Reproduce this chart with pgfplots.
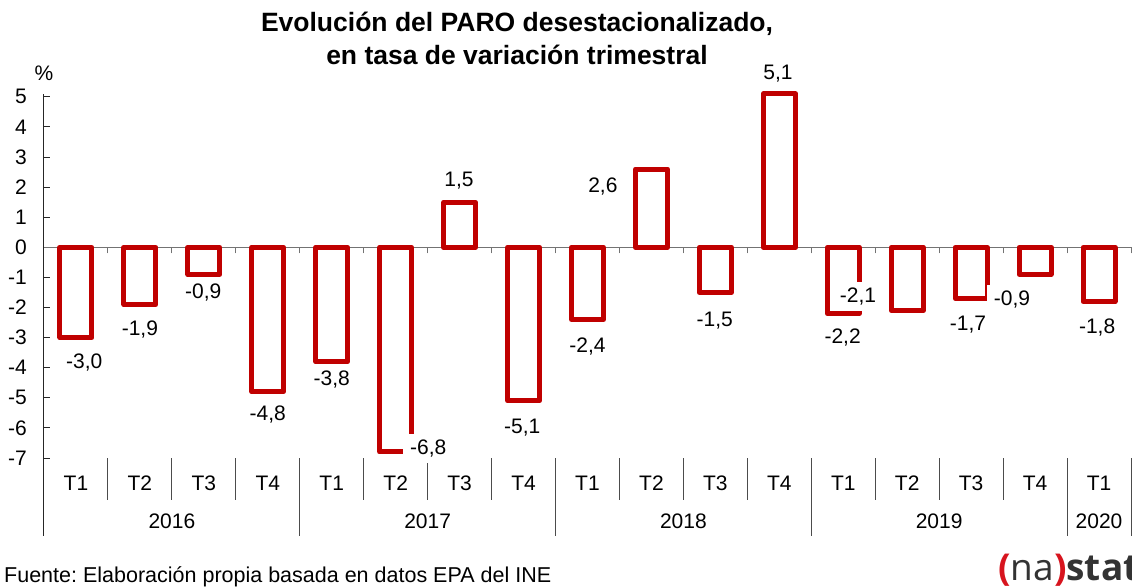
\documentclass[border=0pt]{standalone}
\usepackage{fontspec}
\setmainfont{Liberation Sans}
\newfontfamily\logofont{Open Sans}
\usepackage{pgfplots}
\usepackage{pgfplotstable}
\pgfplotsset{compat=1.18}
\frenchspacing
\definecolor{barred}{HTML}{C00000}
\definecolor{logored}{HTML}{D7141E}
\definecolor{logogray}{HTML}{333333}
\newcommand\lbl{\fontsize{21}{25}\selectfont}

\pgfplotstableread{
x y
0 -3.0
1 -1.9
2 -0.9
3 -4.8
4 -3.8
5 -6.8
6 1.5
7 -5.1
8 -2.4
9 2.6
10 -1.5
11 5.1
12 -2.2
13 -2.1
14 -1.7
15 -0.9
16 -1.8
}\bars

\pgfplotstableread{
lx ly lab
0.13 -3.84 -3,0
1.00 -2.74 -1,9
1.99 -1.51 -0,9
3.00 -5.56 -4,8
4.00 -4.40 -3,8
5.51 -6.69 -6,8
5.99 2.21 1,5
6.98 -5.98 -5,1
8.00 -3.31 -2,4
8.24 2.03 2,6
9.99 -2.44 -1,5
10.98 5.78 5,1
11.99 -3.01 -2,2
12.23 -1.64 -2,1
13.95 -2.57 -1,7
14.64 -1.74 -0,9
15.97 -2.67 -1,8
}\labels

\begin{document}
\begin{tikzpicture}[x=1pt,y=1pt]
\useasboundingbox (0,0) rectangle (1132,-588);
\begin{axis}[
  at={(44pt,-458pt)}, anchor=south west,
  scale only axis, width=1087pt, height=364.2pt,
  xmin=-0.5, xmax=16.5, ymin=-7, ymax=5.1,
  clip=false,
  axis x line=middle, axis y line=left,
  axis line style={-},
  x axis line style={black!55, line width=1pt},
  y axis line style={black!85, line width=1pt},
  hide obscured x ticks=false, hide obscured y ticks=false,
  xtick={-0.5,0.5,1.5,2.5,3.5,4.5,5.5,6.5,7.5,8.5,9.5,10.5,11.5,12.5,13.5,14.5,15.5,16.5},
  xticklabels={},
  xtick align=outside,
  x tick style={black!55, line width=1pt},
  ytick={-7,-6,-5,-4,-3,-2,-1,0,1,2,3,4,5},
  yticklabels={-7,-6,-5,-4,-3,-2,-1,0,1,2,3,4,5},
  ytick align=inside,
  y tick style={black!85, line width=1pt},
  major tick length=6pt,
  yticklabel style={anchor=east, inner sep=0pt, xshift=-17pt, font=\lbl},
]
\addplot[ybar, bar width=32pt, draw=barred, line width=5pt, fill=white, line join=round]
  table[x=x, y=y]{\bars};
\addplot[draw=none, mark=none, nodes near coords, point meta=explicit symbolic,
  nodes near coords style={anchor=center, fill=white, inner xsep=7pt, inner ysep=6pt, font=\lbl, text=black}]
  table[x=lx, y=ly, meta=lab]{\labels};

% category table
\foreach \xx in {0.5,1.5,2.5,4.5,5.5,6.5,8.5,9.5,10.5,12.5,13.5,14.5}
  {\edef\tmp{\noexpand\draw[black!70, line width=0.9pt] (axis cs:\xx,-7) -- ([yshift=-42pt]axis cs:\xx,-7);}\tmp}
\foreach \xx in {3.5,7.5,11.5,15.5,16.5}
  {\edef\tmp{\noexpand\draw[black!70, line width=0.9pt] (axis cs:\xx,-7) -- ([yshift=-78pt]axis cs:\xx,-7);}\tmp}
\draw[black!85, line width=1pt] (axis cs:-0.5,-7) -- ([yshift=-78pt]axis cs:-0.5,-7);

\foreach \xx/\tt in {0/T1,1/T2,2/T3,3/T4,4/T1,5/T2,6/T3,7/T4,8/T1,9/T2,10/T3,11/T4,12/T1,13/T2,14/T3,15/T4,16/T1}
  {\edef\tmp{\noexpand\node[font=\noexpand\lbl] at ([yshift=-25pt]axis cs:\xx,-7) {\tt};}\tmp}
\foreach \xx/\yy in {1.5/2016,5.5/2017,9.5/2018,13.5/2019,16/2020}
  {\edef\tmp{\noexpand\node[font=\noexpand\lbl] at ([yshift=-63pt]axis cs:\xx,-7) {\yy};}\tmp}
\end{axis}

\node[font=\bfseries\fontsize{26.5}{33}\selectfont, align=center] at (517,-38.5)
  {Evolución del PARO desestacionalizado,\\en tasa de variación trimestral};
\node[font=\lbl] at (44,-73) {\%};
\node[anchor=west, inner sep=0pt, font=\fontsize{21.5}{25}\selectfont] at (4,-577) {Fuente: Elaboración propia basada en datos EPA del INE};
\node[anchor=west, inner sep=0pt] at (998,-570)
  {\logofont\fontsize{37}{37}\selectfont\textcolor{logored}{\bfseries(}\textcolor{logogray}{na}\textcolor{logored}{\bfseries)}\textcolor{logogray}{\bfseries stat}};
\end{tikzpicture}
\end{document}
